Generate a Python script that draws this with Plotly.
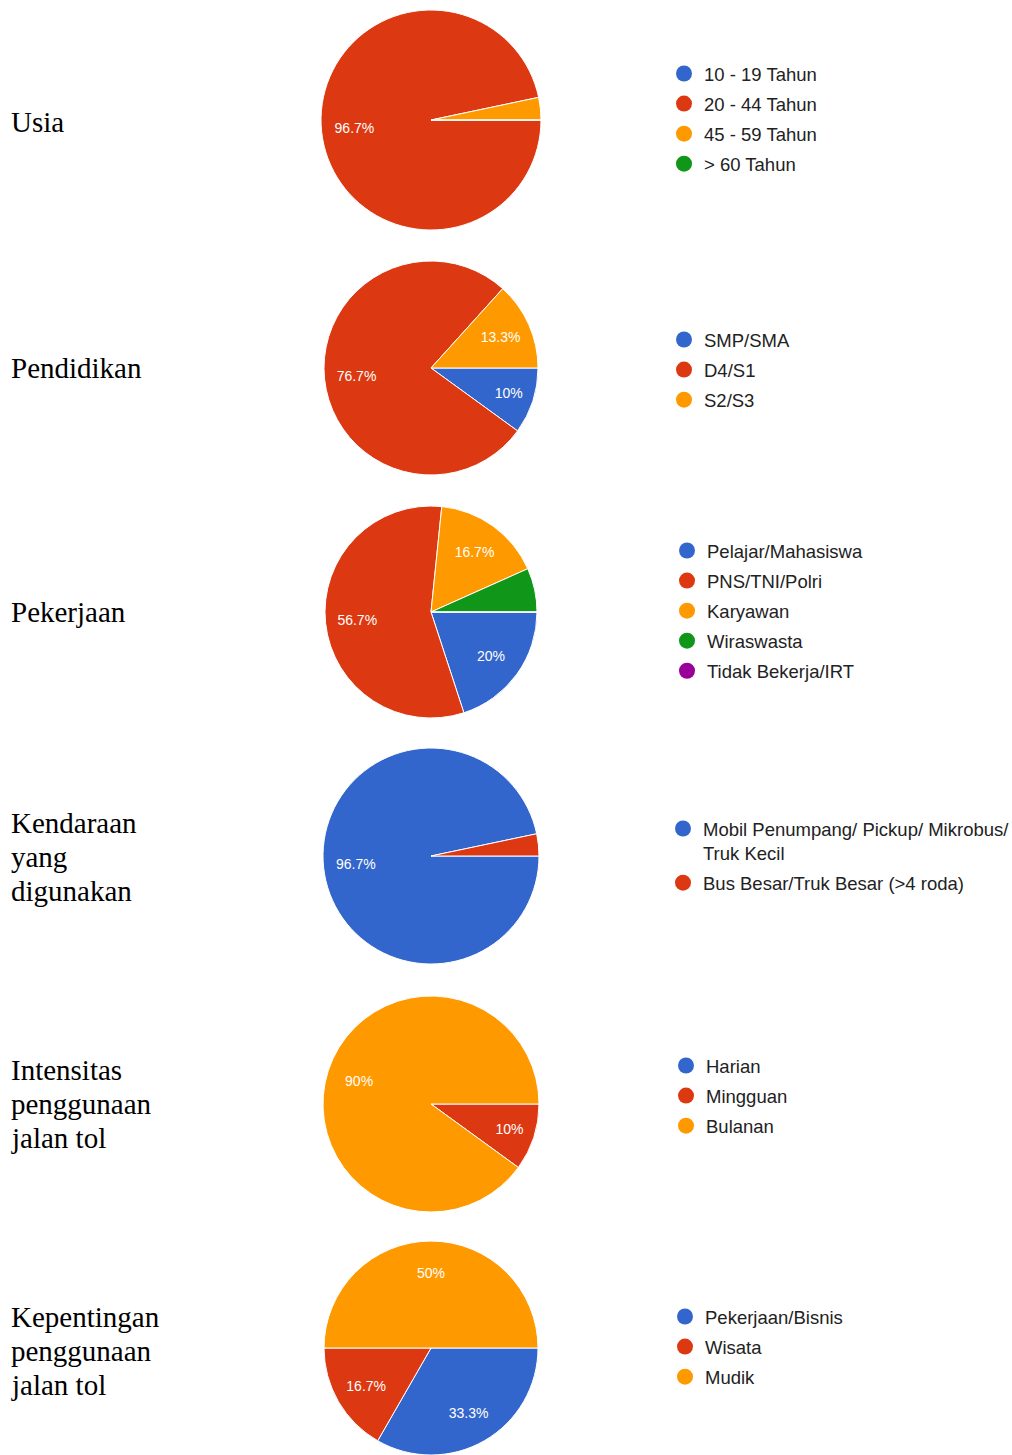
import plotly.graph_objects as go

W, H = 1012, 1455

# ---------------- data ----------------
titles = ["Usia", "Pendidikan", "Pekerjaan",
          "Kendaraan<br>yang<br>digunakan",
          "Intensitas<br>penggunaan<br>jalan tol",
          "Kepentingan<br>penggunaan<br>jalan tol"]

usia_labels = ["10 - 19 Tahun", "20 - 44 Tahun", "45 - 59 Tahun", "> 60 Tahun"]
usia_values = [0, 96.7, 3.3, 0]

pendidikan_labels = ["SMP/SMA", "D4/S1", "S2/S3"]
pendidikan_values = [10, 76.7, 13.3]

pekerjaan_labels = ["Pelajar/Mahasiswa", "PNS/TNI/Polri", "Karyawan", "Wiraswasta", "Tidak Bekerja/IRT"]
pekerjaan_values = [20, 56.7, 16.7, 6.7, 0]

kendaraan_labels = ["Mobil Penumpang/ Pickup/ Mikrobus/<br>Truk Kecil", "Bus Besar/Truk Besar (>4 roda)"]
kendaraan_values = [96.7, 3.3]

intensitas_labels = ["Harian", "Mingguan", "Bulanan"]
intensitas_values = [0, 10, 90]

kepentingan_labels = ["Pekerjaan/Bisnis", "Wisata", "Mudik"]
kepentingan_values = [33.3, 16.7, 50]

charts = [
    (usia_labels, usia_values),
    (pendidikan_labels, pendidikan_values),
    (pekerjaan_labels, pekerjaan_values),
    (kendaraan_labels, kendaraan_values),
    (intensitas_labels, intensitas_values),
    (kepentingan_labels, kepentingan_values),
]

palette = ["#3366CC", "#DC3912", "#FF9900", "#109618", "#990099"]

# ---------------- layout constants (pixels) ----------------
pie_cx = 431
pie_cy = [120, 368, 612, 856, 1104, 1348]
pie_r = [110, 107, 106, 108, 108, 107]
title_cy = [122, 368, 612, 857, 1104, 1351]
title_line_gap = 34
legend_cy = [119, 370, 611, 856, 1096, 1347]
legend_left = [664, 664, 667, 663, 666, 665]

fig = go.Figure()
layout_extra = {}
annotations = []

for k, (labels, values) in enumerate(charts):
    cy, r = pie_cy[k], pie_r[k]
    dom = dict(
        x=[max(0, (pie_cx - r) / W), min(1, (pie_cx + r) / W)],
        y=[max(0, 1 - (cy + r) / H), min(1, 1 - (cy - r) / H)],
    )
    colors = palette[:len(values)]
    # base pie with coloured slices
    fig.add_trace(go.Pie(
        labels=labels, values=values, sort=False, direction="clockwise",
        rotation=90, domain=dom, textinfo="none", showlegend=False,
        marker=dict(colors=colors, line=dict(color="white", width=1)),
        hoverinfo="label+percent",
    ))
    # transparent overlay carrying the percentage labels
    texts = [("%g%%" % v) if v >= 8 else "" for v in values]
    fig.add_trace(go.Pie(
        labels=labels, values=values, sort=False, direction="clockwise",
        rotation=90, domain=dom, hole=0.4, showlegend=False,
        text=texts, textinfo="text", textposition="inside",
        insidetextorientation="horizontal",
        textfont=dict(color="white", size=14, family="Arial"),
        marker=dict(colors=["rgba(0,0,0,0)"] * len(values), line=dict(width=0)),
        hoverinfo="skip",
    ))
    legend_name = "legend" if k == 0 else "legend%d" % (k + 1)
    for j, lab in enumerate(labels):
        fig.add_trace(go.Scatter(
            x=[None], y=[None], mode="markers", name=lab,
            marker=dict(color=colors[j], size=16),
            legend=legend_name, legendgroup="g%d_%d" % (k, j),
            showlegend=True, hoverinfo="skip",
        ))
    layout_extra[legend_name] = dict(
        x=legend_left[k] / W, xanchor="left",
        y=1 - legend_cy[k] / H, yanchor="middle",
        font=dict(family="Arial", size=18.5, color="#222222"),
        tracegroupgap=3, bgcolor="rgba(0,0,0,0)", borderwidth=0,
        valign="top", itemclick=False, itemdoubleclick=False,
    )
    lines = titles[k].split("<br>")
    n = len(lines)
    for i, line in enumerate(lines):
        ly = title_cy[k] + (i - (n - 1) / 2) * title_line_gap
        annotations.append(dict(
            text=line, xref="paper", yref="paper",
            x=9 / W, y=1 - ly / H, xanchor="left", yanchor="middle",
            align="left", showarrow=False,
            font=dict(family="Liberation Serif, Times New Roman, serif", size=29, color="#000000"),
        ))

fig.update_layout(
    width=W, height=H, autosize=False,
    margin=dict(l=0, r=0, t=0, b=0, autoexpand=False),
    paper_bgcolor="white", plot_bgcolor="white",
    showlegend=True,
    xaxis=dict(visible=False), yaxis=dict(visible=False),
    annotations=annotations,
    **layout_extra,
)

fig.write_html("out.html")
